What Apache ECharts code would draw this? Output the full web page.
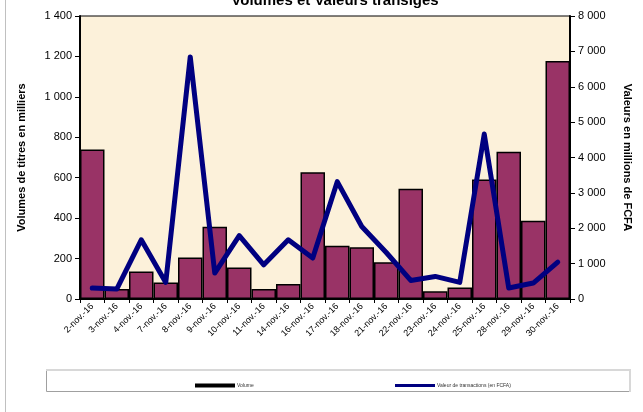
<!DOCTYPE html>
<html>
<head>
<meta charset="utf-8">
<script src="https://cdn.jsdelivr.net/npm/echarts@6/dist/echarts.min.js"></script>
<style>html,body{margin:0;padding:0;background:#fff;}#c{width:643px;height:412px;}</style>
</head>
<body>
<div id="c"></div>
<script>
const categories = ['2-nov.-16','3-nov.-16','4-nov.-16','7-nov.-16','8-nov.-16','9-nov.-16','10-nov.-16','11-nov.-16','14-nov.-16','16-nov.-16','17-nov.-16','18-nov.-16','21-nov.-16','22-nov.-16','23-nov.-16','24-nov.-16','25-nov.-16','28-nov.-16','29-nov.-16','30-nov.-16'];
const volume = [739, 49, 136, 82, 205, 358, 156, 49, 74, 627, 263, 256, 182, 545, 38, 57, 591, 729, 387, 1178];
const valeur = [310, 282, 1673, 468, 6844, 733, 1794, 967, 1673, 1157, 3317, 2048, 1315, 525, 638, 468, 4663, 310, 451, 1044];
const leftTicks = [0, 200, 400, 600, 800, 1000, 1200, 1400];
const rightTicks = [0, 1000, 2000, 3000, 4000, 5000, 6000, 7000, 8000];

const fmt = v => String(v).replace(/\B(?=(\d{3})+(?!\d))/g, ' ');
const font = 'Liberation Sans, Arial, sans-serif';
const chart = echarts.init(document.getElementById('c'));
chart.setOption({
  animation: false,
  textStyle: { fontFamily: font },
  title: {
    text: 'Volumes et Valeurs transigés',
    left: 330, top: -12, textAlign: 'center',
    textStyle: { fontSize: 15, fontWeight: 'bold', color: '#000', fontFamily: font }
  },
  graphic: [
    { type: 'line', shape: { x1: 5.5, y1: 0, x2: 5.5, y2: 412 }, style: { stroke: '#c0c0c0', lineWidth: 1 } },
    { type: 'rect', shape: { x: 46.5, y: 370.5, width: 583, height: 21 }, style: { fill: '#fff', stroke: '#a0a0a0', lineWidth: 1 }, z: -1 },
    { type: 'line', shape: { x1: 46, y1: 370, x2: 631, y2: 370 }, style: { stroke: '#d8d8d8', lineWidth: 2 } },
    { type: 'line', shape: { x1: 630, y1: 370, x2: 630, y2: 392 }, style: { stroke: '#d8d8d8', lineWidth: 2 } }
  ],
  legend: [
    { data: [{ name: 'Volume', itemStyle: { color: '#000', borderWidth: 0 } }], left: 190, top: 378,
      icon: 'rect', itemWidth: 40, itemHeight: 4, itemGap: 2,
      textStyle: { fontSize: 5, color: '#333', padding: [0, 0, 0, -3] } },
    { data: [{ name: 'Valeur de transactions (en FCFA)', itemStyle: { color: '#000080' } }], left: 390, top: 378,
      icon: 'rect', itemWidth: 40, itemHeight: 3, itemGap: 2,
      textStyle: { fontSize: 5, color: '#333', padding: [0, 0, 0, -3] } }
  ],
  grid: {
    left: 80, right: 73, top: 16, bottom: 113,
    show: true, backgroundColor: '#FCF1DA', borderColor: '#000', borderWidth: 1
  },
  xAxis: {
    type: 'category', data: categories, boundaryGap: true,
    axisLine: { lineStyle: { color: '#000', width: 2 } },
    axisTick: { show: true, length: 4, lineStyle: { color: '#000' } },
    axisLabel: { rotate: 45, fontSize: 9, color: '#000', margin: 6, interval: 0 }
  },
  yAxis: [
    {
      type: 'value', min: 0, max: 1400, interval: 200,
      name: 'Volumes de titres en milliers', nameLocation: 'middle', nameGap: 53, nameRotate: 90,
      nameTextStyle: { fontSize: 11, fontWeight: 'bold', color: '#000' },
      axisLine: { show: true, lineStyle: { color: '#000', width: 2 } },
      axisTick: { show: true, length: 5, lineStyle: { color: '#000' } },
      axisLabel: { fontSize: 11, color: '#000', margin: 8, formatter: v => leftTicks.includes(v) ? fmt(v) : '' },
      splitLine: { show: false }
    },
    {
      type: 'value', min: 0, max: 8000, interval: 1000, position: 'right',
      name: 'Valeurs en millions de FCFA', nameLocation: 'middle', nameGap: 52, nameRotate: -90,
      nameTextStyle: { fontSize: 11, fontWeight: 'bold', color: '#000' },
      axisLine: { show: true, lineStyle: { color: '#000', width: 2 } },
      axisTick: { show: true, length: 5, lineStyle: { color: '#000' } },
      axisLabel: { fontSize: 11, color: '#000', margin: 8, formatter: v => rightTicks.includes(v) ? fmt(v) : '' },
      splitLine: { show: false }
    }
  ],
  series: [
    {
      name: 'Volume', type: 'bar', data: volume, yAxisIndex: 0,
      barCategoryGap: '0%',
      itemStyle: { color: '#993366', borderColor: '#000', borderWidth: 1.5 }
    },
    {
      name: 'Valeur de transactions (en FCFA)', type: 'line', data: valeur, yAxisIndex: 1,
      showSymbol: false, symbol: 'none',
      lineStyle: { color: '#000080', width: 5, cap: 'round', join: 'round' },
      itemStyle: { color: '#000080' }
    }
  ]
});
</script>
</body>
</html>
